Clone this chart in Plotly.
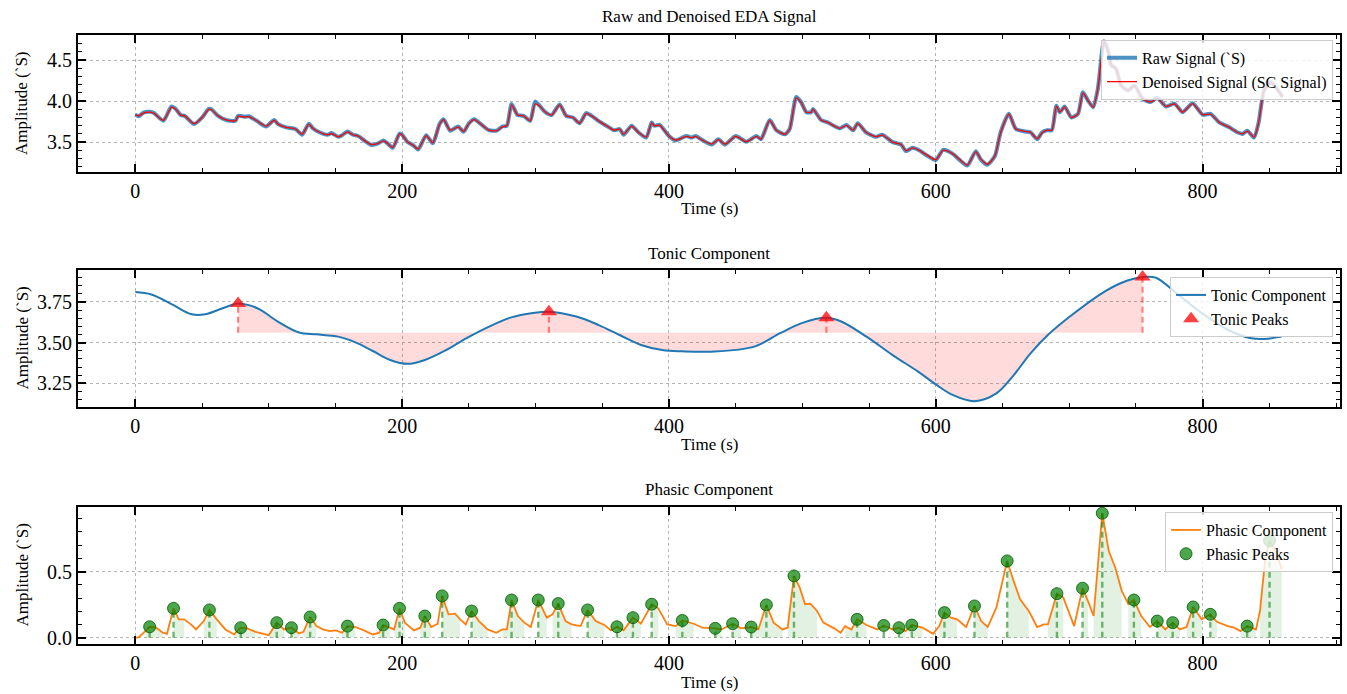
import plotly.graph_objects as go

FONT = "Liberation Serif"

# ---------------- data ----------------
raw_t = [0, 2.5, 6, 11, 14, 21, 27, 30, 34, 37,
         44, 50, 55, 57, 62, 68, 75, 77, 82, 85,
         91, 98, 104, 107, 113, 120, 125, 130, 133, 138,
         144, 147, 152, 155, 159, 163, 167, 172, 177, 182,
         186, 189, 193, 198, 200, 204, 208, 212, 218, 223,
         228, 231, 236, 242, 246, 250, 254, 259, 265, 271,
         275, 278.5, 282, 286.5, 291, 296, 299.6, 303, 307, 312,
         318, 323, 328, 333, 338, 342, 348, 354, 359, 363,
         366, 372, 377, 383, 387, 389, 393, 400, 405, 413,
         417, 420, 425, 432, 437, 442, 450, 458, 465.5, 469,
         475.5, 480.5, 487, 490.5, 495.4, 499, 503, 506.6, 508, 514,
         519, 528, 533, 538, 541.5, 547.7, 555, 560, 567.6, 574,
         577.6, 582.6, 587.5, 594, 600, 605.5, 612.5, 617.4, 623.7, 630,
         633.6, 638.6, 644.3, 648.6, 654.8, 660, 667, 671, 676, 679.7,
         683.4, 687, 690.4, 693, 696.6, 701.6, 706.6, 710.3, 714, 718,
         721.5, 726, 729, 731.5, 735, 739, 744, 749, 755, 761,
         766, 772.6, 779, 785, 792.5, 800, 806, 812.5, 820, 826,
         830, 833.6, 838.6, 842, 846, 851, 855, 860]
raw_v = [3.835, 3.815, 3.86, 3.87, 3.855, 3.76, 3.935, 3.91, 3.83, 3.82,
         3.72, 3.80, 3.905, 3.90, 3.82, 3.77, 3.76, 3.82, 3.81, 3.815,
         3.76, 3.69, 3.77, 3.72, 3.68, 3.66, 3.59, 3.725, 3.67, 3.62,
         3.59, 3.61, 3.565, 3.585, 3.63, 3.59, 3.575, 3.515, 3.465, 3.485,
         3.52, 3.485, 3.43, 3.605, 3.59, 3.50, 3.465, 3.41, 3.585, 3.485,
         3.72, 3.78, 3.64, 3.69, 3.625, 3.73, 3.78, 3.72, 3.645, 3.64,
         3.69, 3.70, 3.965, 3.83, 3.82, 3.76, 3.995, 3.945, 3.87, 3.83,
         3.96, 3.82, 3.80, 3.73, 3.855, 3.82, 3.75, 3.69, 3.645, 3.66,
         3.59, 3.70, 3.62, 3.555, 3.74, 3.70, 3.71, 3.575, 3.52, 3.575,
         3.555, 3.575, 3.525, 3.47, 3.535, 3.47, 3.575, 3.505, 3.575, 3.535,
         3.77, 3.645, 3.595, 3.66, 4.05, 3.99, 3.865, 3.865, 3.905, 3.77,
         3.74, 3.667, 3.71, 3.645, 3.73, 3.62, 3.565, 3.59, 3.50, 3.47,
         3.39, 3.43, 3.40, 3.33, 3.28, 3.405, 3.36, 3.29, 3.215, 3.39,
         3.29, 3.225, 3.33, 3.62, 3.845, 3.66, 3.63, 3.62, 3.535, 3.62,
         3.645, 3.645, 3.945, 3.865, 3.935, 3.80, 3.845, 4.11, 4.01, 3.925,
         4.15, 4.73, 4.625, 4.44, 4.40, 4.19, 4.13, 4.19, 4.03, 3.99,
         4.04, 3.935, 3.97, 3.865, 3.975, 3.835, 3.845, 3.74, 3.68, 3.62,
         3.60, 3.64, 3.555, 3.74, 4.13, 4.235, 4.17, 4.05]
den_v = [3.835, 3.82, 3.855, 3.865, 3.85, 3.765, 3.925, 3.905, 3.83, 3.82,
         3.725, 3.80, 3.90, 3.895, 3.82, 3.77, 3.76, 3.815, 3.805, 3.81,
         3.76, 3.695, 3.765, 3.72, 3.68, 3.66, 3.595, 3.72, 3.67, 3.62,
         3.59, 3.605, 3.565, 3.585, 3.625, 3.59, 3.575, 3.515, 3.47, 3.485,
         3.515, 3.485, 3.435, 3.60, 3.585, 3.50, 3.465, 3.415, 3.58, 3.49,
         3.715, 3.775, 3.645, 3.685, 3.63, 3.725, 3.775, 3.72, 3.645, 3.64,
         3.685, 3.70, 3.955, 3.83, 3.82, 3.76, 3.965, 3.94, 3.87, 3.83,
         3.955, 3.82, 3.80, 3.73, 3.85, 3.82, 3.75, 3.69, 3.645, 3.66,
         3.595, 3.695, 3.62, 3.56, 3.735, 3.70, 3.705, 3.575, 3.525, 3.57,
         3.555, 3.57, 3.525, 3.475, 3.53, 3.475, 3.57, 3.505, 3.57, 3.535,
         3.765, 3.645, 3.595, 3.66, 4.04, 3.985, 3.865, 3.865, 3.90, 3.77,
         3.74, 3.667, 3.705, 3.645, 3.725, 3.62, 3.565, 3.585, 3.50, 3.47,
         3.395, 3.43, 3.40, 3.335, 3.285, 3.40, 3.36, 3.295, 3.22, 3.385,
         3.295, 3.23, 3.33, 3.615, 3.84, 3.66, 3.63, 3.62, 3.54, 3.615,
         3.645, 3.645, 3.94, 3.865, 3.93, 3.80, 3.845, 4.10, 4.01, 3.925,
         4.15, 4.72, 4.62, 4.44, 4.40, 4.19, 4.13, 4.185, 4.03, 3.99,
         4.035, 3.935, 3.965, 3.865, 3.97, 3.835, 3.84, 3.74, 3.68, 3.62,
         3.60, 3.635, 3.56, 3.735, 4.12, 4.23, 4.165, 4.05]

tonic_t = [0, 12, 28.6, 41.5, 51, 61, 70, 77, 85, 93.5,
           106.5, 122.7, 135.7, 152, 165, 178, 191, 204, 217, 233,
           249, 265.6, 281.8, 298, 310, 330.5, 347, 363, 379, 395,
           410, 431.4, 464, 483.3, 499.5, 518, 528.7, 548, 567.6, 587,
           600, 613, 629, 645.4, 658.3, 671, 684, 700.5, 723, 739.4,
           755, 765, 781.5, 801, 820.4, 836.6, 846.4, 859.3]
tonic_v = [3.81, 3.795, 3.73, 3.676, 3.672, 3.697, 3.725, 3.74, 3.73, 3.703,
           3.631, 3.562, 3.551, 3.537, 3.502, 3.449, 3.394, 3.37, 3.394, 3.455,
           3.531, 3.60, 3.655, 3.682, 3.69, 3.66, 3.609, 3.547, 3.486, 3.455,
           3.447, 3.445, 3.476, 3.558, 3.62, 3.652, 3.631, 3.537, 3.424, 3.321,
           3.244, 3.178, 3.141, 3.189, 3.30, 3.434, 3.547, 3.66, 3.795, 3.867,
           3.902, 3.898, 3.795, 3.672, 3.573, 3.527, 3.523, 3.537]
tonic_peak_t = [77, 310, 518, 755]
tonic_peak_v = [3.74, 3.69, 3.652, 3.902]
tonic_base = 3.56

phasic_t = [0, 2.6, 7.5, 10.7, 15.6, 20.5, 23.7, 28.6, 32.5, 36.7,
            41.6, 45.5, 51.3, 55.5, 61, 67.5, 74, 79, 83.8, 90,
            100, 106, 111.4, 117, 122.7, 126, 131, 135.7, 140.6, 145.5,
            150.3, 155, 159, 165, 171.4, 178, 182.8, 185.7, 191, 194,
            198, 202, 208.8, 213.6, 217, 221.8, 226.6, 230, 234.7, 239.6,
            243.5, 247.7, 252, 257.5, 264, 270.5, 275, 278.5, 282, 286.7,
            291.6, 296.4, 302, 308.4, 312.7, 317, 322.4, 327, 333.8, 339,
            345, 351.6, 356.5, 361, 366, 373, 379, 387, 392, 398.7,
            405, 410, 418.5, 425, 434.7, 439.5, 447.7, 454, 461.6, 467,
            473, 478.4, 485, 489, 493.7, 498, 502, 506, 511, 515.7,
            523.8, 528.7, 532, 536.8, 541, 548, 556, 561, 567.6, 572.4,
            577.3, 582, 590, 598, 602.6, 606.5, 611.3, 616, 622.7, 629,
            634, 638.9, 645.4, 653.5, 658.3, 663.2, 669.7, 676, 681, 684,
            690.8, 695.6, 703.7, 710, 714, 718.3, 724.8, 729.6, 734.5, 739.4,
            744.3, 748.5, 754, 760.5, 766, 772, 777.6, 783, 788, 792.9,
            799.4, 805.8, 810.7, 818.8, 823.7, 828.5, 833.4, 840, 843, 847,
            850.2, 855, 859.3]
phasic_v = [0.0, 0.005, 0.05, 0.083, 0.076, 0.038, 0.03, 0.222, 0.139, 0.139,
            0.101, 0.063, 0.126, 0.21, 0.139, 0.063, 0.025, 0.076, 0.071, 0.045,
            0.02, 0.114, 0.063, 0.076, 0.033, 0.045, 0.157, 0.088, 0.063, 0.05,
            0.056, 0.038, 0.088, 0.081, 0.056, 0.025, 0.038, 0.096, 0.076, 0.063,
            0.222, 0.114, 0.056, 0.076, 0.164, 0.081, 0.106, 0.316, 0.177, 0.182,
            0.139, 0.101, 0.202, 0.126, 0.063, 0.038, 0.063, 0.063, 0.285, 0.164,
            0.114, 0.081, 0.285, 0.152, 0.177, 0.258, 0.126, 0.101, 0.088, 0.21,
            0.126, 0.096, 0.056, 0.083, 0.056, 0.152, 0.106, 0.253, 0.222, 0.101,
            0.088, 0.131, 0.106, 0.076, 0.071, 0.063, 0.106, 0.071, 0.081, 0.063,
            0.248, 0.114, 0.063, 0.076, 0.467, 0.379, 0.253, 0.258, 0.202, 0.114,
            0.071, 0.038, 0.088, 0.063, 0.139, 0.096, 0.063, 0.093, 0.063, 0.076,
            0.05, 0.096, 0.076, 0.03, 0.088, 0.19, 0.152, 0.139, 0.081, 0.24,
            0.126, 0.081, 0.227, 0.58, 0.429, 0.29, 0.202, 0.081, 0.101, 0.101,
            0.333, 0.303, 0.088, 0.374, 0.278, 0.164, 0.94, 0.657, 0.53, 0.354,
            0.253, 0.285, 0.164, 0.081, 0.126, 0.063, 0.114, 0.063, 0.081, 0.232,
            0.139, 0.177, 0.121, 0.088, 0.076, 0.05, 0.088, 0.063, 0.2, 0.6,
            0.732, 0.65, 0.518]
phasic_peak_t = [10.7, 28.6, 55.5, 79, 106, 117, 131, 159, 185.7, 198,
                 217, 230, 252, 282, 302, 317, 339, 361, 373, 387,
                 410, 434.7, 447.7, 461.6, 473, 493.7, 541, 561, 572.4, 582,
                 606.5, 629, 653.5, 690.8, 710, 724.8, 748.5, 766, 777.6, 792.9,
                 805.8, 833.4, 850.2]
phasic_peak_v = [0.083, 0.222, 0.21, 0.076, 0.114, 0.076, 0.157, 0.088, 0.096, 0.222,
                 0.164, 0.316, 0.202, 0.285, 0.285, 0.258, 0.21, 0.083, 0.152, 0.253,
                 0.131, 0.071, 0.106, 0.081, 0.248, 0.467, 0.139, 0.093, 0.076, 0.096,
                 0.19, 0.24, 0.58, 0.333, 0.374, 0.94, 0.285, 0.126, 0.114, 0.232,
                 0.177, 0.088, 0.732]
phasic_onset = [3, 24, 46, 74, 100, 112, 126, 155, 179, 194,
                209, 227, 248, 271, 297, 309, 334, 357, 366, 380,
                400, 429, 440, 455, 467, 489, 529, 557, 568, 578,
                599, 623, 646, 684, 704, 718, 744, 761, 772, 788,
                800, 828, 841]
phasic_offset = [22, 40, 66, 90, 112, 125, 140, 170, 192, 205,
                 224, 245, 264, 292, 310, 330, 352, 368, 380, 398,
                 420, 442, 455, 467, 485, 515, 548, 567, 578, 590,
                 618, 640, 670, 700, 716, 742, 758, 772, 784, 800,
                 818, 840, 860]

titles = ["Raw and Denoised EDA Signal", "Tonic Component", "Phasic Component"]
x_label = "Time (s)"
y_label = "Amplitude (`S)"

# ---------------- figure ----------------
fig = go.Figure()

# Panel 1
fig.add_trace(go.Scatter(x=raw_t, y=raw_v, mode="lines", name="Raw Signal (`S)",
                         line=dict(color="rgba(31,119,180,0.8)", width=4, shape="spline", smoothing=0.6),
                         xaxis="x", yaxis="y", legend="legend"))
fig.add_trace(go.Scatter(x=raw_t, y=den_v, mode="lines", name="Denoised Signal (SC Signal)",
                         line=dict(color="red", width=1.3, shape="spline", smoothing=0.6),
                         xaxis="x", yaxis="y", legend="legend"))

# Panel 2
seg_t = [t for t in tonic_t if tonic_peak_t[0] <= t <= tonic_peak_t[-1]]
seg_v = [v for t, v in zip(tonic_t, tonic_v) if tonic_peak_t[0] <= t <= tonic_peak_t[-1]]
fig.add_trace(go.Scatter(x=[seg_t[0], seg_t[-1]], y=[tonic_base, tonic_base], mode="lines",
                         line=dict(width=0, color="rgba(0,0,0,0)"), showlegend=False,
                         hoverinfo="skip", xaxis="x2", yaxis="y2"))
fig.add_trace(go.Scatter(x=seg_t, y=seg_v, mode="lines", fill="tonexty",
                         fillcolor="rgba(255,0,0,0.14)", line=dict(width=0, shape="spline"),
                         showlegend=False, hoverinfo="skip", xaxis="x2", yaxis="y2"))
fig.add_trace(go.Scatter(x=tonic_t, y=tonic_v, mode="lines", name="Tonic Component",
                         line=dict(color="#1f77b4", width=2, shape="spline"),
                         xaxis="x2", yaxis="y2", legend="legend2"))
vx, vy = [], []
for t, v in zip(tonic_peak_t, tonic_peak_v):
    vx += [t, t, None]
    vy += [tonic_base, v, None]
fig.add_trace(go.Scatter(x=vx, y=vy, mode="lines", showlegend=False,
                         line=dict(color="rgba(255,0,0,0.45)", width=2.2, dash="6px,4px"),
                         xaxis="x2", yaxis="y2"))
fig.add_trace(go.Scatter(x=tonic_peak_t, y=tonic_peak_v, mode="markers", name="Tonic Peaks",
                         marker=dict(symbol="triangle-up", size=14, color="rgba(255,0,0,0.75)",
                                     line=dict(width=0)),
                         xaxis="x2", yaxis="y2", legend="legend2"))

# Panel 3
for on, off in zip(phasic_onset, phasic_offset):
    ft = [t for t in phasic_t if on <= t <= off]
    fv = [v for t, v in zip(phasic_t, phasic_v) if on <= t <= off]
    fig.add_trace(go.Scatter(x=ft, y=fv, mode="lines", fill="tozeroy",
                             fillcolor="rgba(0,128,0,0.11)", line=dict(width=0),
                             showlegend=False, hoverinfo="skip", xaxis="x3", yaxis="y3"))
fig.add_trace(go.Scatter(x=phasic_t, y=phasic_v, mode="lines", name="Phasic Component",
                         line=dict(color="#ff7f0e", width=1.8),
                         xaxis="x3", yaxis="y3", legend="legend3"))
px, py = [], []
for t, v in zip(phasic_peak_t, phasic_peak_v):
    px += [t, t, None]
    py += [0, v, None]
fig.add_trace(go.Scatter(x=px, y=py, mode="lines", showlegend=False,
                         line=dict(color="rgba(0,128,0,0.55)", width=2.4, dash="6px,4px"),
                         xaxis="x3", yaxis="y3"))
fig.add_trace(go.Scatter(x=phasic_peak_t, y=phasic_peak_v, mode="markers", name="Phasic Peaks",
                         marker=dict(symbol="circle", size=12, color="rgba(0,128,0,0.7)",
                                     line=dict(width=1, color="rgba(0,90,0,0.8)")),
                         xaxis="x3", yaxis="y3", legend="legend3"))

# ---------------- layout ----------------
def xax(domain_anchor):
    return dict(range=[-43, 903], tick0=0, dtick=200, anchor=domain_anchor,
                showline=True, linewidth=2.2, linecolor="black", mirror="allticks",
                ticks="inside", ticklen=8, tickwidth=1.8, tickcolor="black",
                showgrid=True, gridcolor="#b5b5b5", griddash="dot", gridwidth=1,
                zeroline=False, tickfont=dict(family=FONT, size=20, color="black"),
                minor=dict(ticks="inside", ticklen=4, tickwidth=1.2, tickcolor="black",
                           dtick=50, tick0=0, showgrid=False))

def yax(rng, dtick, mdtick, fmt, domain):
    return dict(range=rng, tick0=0, dtick=dtick, tickformat=fmt, domain=domain,
                showline=True, linewidth=2.2, linecolor="black", mirror="allticks",
                ticks="inside", ticklen=8, tickwidth=1.8, tickcolor="black",
                showgrid=True, gridcolor="#b5b5b5", griddash="dot", gridwidth=1,
                zeroline=False, tickfont=dict(family=FONT, size=20, color="black"),
                minor=dict(ticks="inside", ticklen=4, tickwidth=1.2, tickcolor="black",
                           dtick=mdtick, tick0=0, showgrid=False))

d1, d2, d3 = [0.775, 1.0], [0.389, 0.614], [0.0, 0.225]

legend_style = dict(bgcolor="rgba(255,255,255,0.8)", bordercolor="#cccccc", borderwidth=1,
                    font=dict(family=FONT, size=16, color="black"), traceorder="normal",
                    xanchor="right", yanchor="top", x=0.9945)

fig.update_layout(
    width=1347, height=694,
    margin=dict(l=78, r=5, t=35, b=50),
    plot_bgcolor="white", paper_bgcolor="white",
    font=dict(family=FONT, color="black"),
    xaxis=xax("y"), xaxis2=xax("y2"), xaxis3=xax("y3"),
    yaxis=yax([3.135, 4.807], 0.5, 0.1, ".1f", d1),
    yaxis2=yax([3.105, 3.945], 0.25, 0.05, ".2f", d2),
    yaxis3=yax([-0.047, 0.987], 0.5, 0.1, ".1f", d3),
    legend=dict(**legend_style, y=0.992),
    legend2=dict(**legend_style, y=0.6026),
    legend3=dict(**legend_style, y=0.2167),
    showlegend=True,
)

ann = []
for txt, y in zip(titles, [1.0296, 0.642, 0.2529]):
    ann.append(dict(text=txt, x=0.5, y=y, xref="paper", yref="paper", showarrow=False,
                    xanchor="center", yanchor="middle", font=dict(family=FONT, size=17)))
for y in [0.7143, 0.3284, -0.064]:
    ann.append(dict(text=x_label, x=0.5, y=y, xref="paper", yref="paper", showarrow=False,
                    xanchor="center", yanchor="middle", font=dict(family=FONT, size=17)))
for y in [0.887, 0.5016, 0.1125]:
    ann.append(dict(text=y_label, x=-0.0443, y=y, xref="paper", yref="paper", showarrow=False,
                    textangle=-90, xanchor="center", yanchor="middle",
                    font=dict(family=FONT, size=17)))
fig.update_layout(annotations=ann)

fig.write_html("out.html")
